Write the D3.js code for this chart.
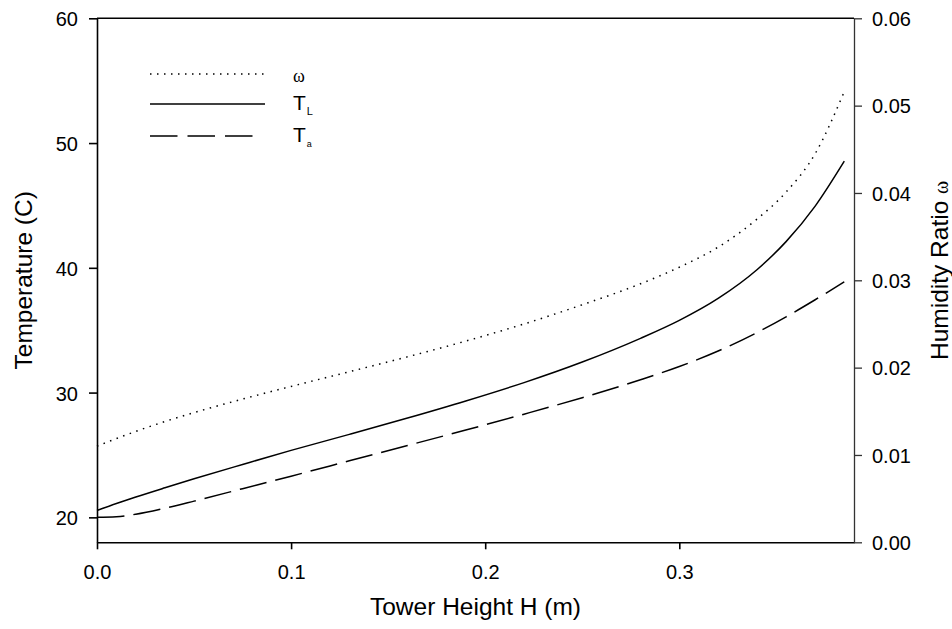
<!DOCTYPE html>
<html>
<head>
<meta charset="utf-8">
<script src="https://cdn.jsdelivr.net/npm/d3@7"></script>
<style>
  html, body { margin: 0; padding: 0; background: #fff; }
  svg { display: block; font-family: "Liberation Sans", Arial, sans-serif; }
</style>
</head>
<body>
<svg id="chart" width="952" height="629"></svg>
<script>
// Tower height (m) along the packing
const heights = [0, 0.01, 0.02, 0.035, 0.05, 0.075, 0.10, 0.13, 0.16, 0.19, 0.22, 0.25, 0.28, 0.30, 0.32, 0.34, 0.355, 0.37, 0.385];
// Liquid temperature T_L (C)
const liquidTemp = [20.55, 21.11, 21.63, 22.37, 23.09, 24.24, 25.37, 26.65, 27.96, 29.33, 30.8, 32.45, 34.35, 35.79, 37.55, 39.85, 42.1, 44.95, 48.55];
// Air temperature T_a (C)
const airTemp = [20.0, 20.05, 20.25, 20.73, 21.3, 22.3, 23.3, 24.53, 25.76, 27.0, 28.27, 29.59, 31.03, 32.09, 33.33, 34.81, 36.07, 37.44, 38.88];
// Humidity ratio omega (kg/kg)
const humidity = [0.0110, 0.01188, 0.0127, 0.01383, 0.01485, 0.0164, 0.01785, 0.01953, 0.02124, 0.02304, 0.025, 0.0272, 0.0296, 0.0315, 0.0338, 0.0370, 0.0401, 0.0445, 0.0516];

const xTicks = [0, 0.1, 0.2, 0.3];
const tempTicks = [20, 30, 40, 50, 60];
const humidityTicks = [0, 0.01, 0.02, 0.03, 0.04, 0.05, 0.06];

const svg = d3.select("#chart");
const plotLeft = 97, plotRight = 854, plotTop = 18.3, plotBottom = 542.3;

const x = d3.scaleLinear().domain([0, 0.39]).range([plotLeft, plotRight]);
const yT = d3.scaleLinear().domain([18, 60]).range([plotBottom, plotTop]);
const yW = d3.scaleLinear().domain([0, 0.06]).range([plotBottom, plotTop]);

const axisStroke = 1.6;

// bottom axis
const gx = svg.append("g").attr("transform", `translate(0,${plotBottom})`)
  .call(d3.axisBottom(x).tickValues(xTicks).tickFormat(d3.format(".1f"))
    .tickSize(7).tickSizeOuter(0).tickPadding(16));
// left axis
const gy = svg.append("g").attr("transform", `translate(${plotLeft},0)`)
  .call(d3.axisLeft(yT).tickValues(tempTicks).tickFormat(d3.format("d"))
    .tickSize(8).tickSizeOuter(0).tickPadding(11));
// right axis
const gw = svg.append("g").attr("transform", `translate(${plotRight},0)`)
  .call(d3.axisRight(yW).tickValues(humidityTicks).tickFormat(d3.format(".2f"))
    .tickSize(8).tickSizeOuter(0).tickPadding(10));

[gx, gy, gw].forEach(g => {
  g.selectAll("path.domain").attr("stroke", "#000").attr("stroke-width", axisStroke);
  g.selectAll(".tick line").attr("stroke", "#000").attr("stroke-width", axisStroke);
  g.selectAll(".tick text").attr("fill", "#000").attr("font-size", 20)
    .attr("font-family", "Liberation Sans, Arial, sans-serif");
});
gy.selectAll(".tick text").attr("dy", "0.38em");
gw.selectAll(".tick text").attr("dy", "0.36em");
gw.selectAll("path.domain, .tick line").attr("stroke", "#333").attr("stroke-width", 1.3);

// top frame line
svg.append("line")
  .attr("x1", plotLeft).attr("x2", plotRight).attr("y1", plotTop).attr("y2", plotTop)
  .attr("stroke", "#000").attr("stroke-width", axisStroke);

// axis titles
svg.append("text")
  .attr("x", (plotLeft + plotRight) / 2).attr("y", 615)
  .attr("text-anchor", "middle").attr("font-size", 24.5)
  .text("Tower Height H (m)");

svg.append("text")
  .attr("transform", `translate(32,${(plotTop + plotBottom) / 2}) rotate(-90)`)
  .attr("text-anchor", "middle").attr("font-size", 24.5)
  .text("Temperature (C)");

const rTitle = svg.append("text")
  .attr("transform", `translate(948,360) rotate(-90)`)
  .attr("text-anchor", "start").attr("font-size", 24.5);
rTitle.append("tspan").text("Humidity Ratio ");
rTitle.append("tspan").attr("font-family", "Liberation Serif, serif").attr("font-size", 20).text("ω");

// curves
const rows = heights.map((h, i) => ({ h, tl: liquidTemp[i], ta: airTemp[i], w: humidity[i] }));

const series = [
  { key: "w", scale: yW, dash: "1.5 5.5" },
  { key: "tl", scale: yT, dash: null },
  { key: "ta", scale: yT, dash: "27.5 9" }
];

series.forEach(s => {
  const line = d3.line()
    .x(d => x(d.h))
    .y(d => s.scale(d[s.key]))
    .curve(d3.curveMonotoneX);
  svg.append("path")
    .datum(rows)
    .attr("d", line)
    .attr("fill", "none")
    .attr("stroke", "#000")
    .attr("stroke-width", 1.5)
    .attr("stroke-dasharray", s.dash);
});

// legend
const legendItems = [
  { main: "ω", sub: "", dash: "1.5 5.5", x2: 265, y: 74 },
  { main: "T", sub: "L", dash: null, x2: 265, y: 104 },
  { main: "T", sub: "a", dash: "27.5 10", x2: 256, y: 136 }
];

legendItems.forEach(it => {
  svg.append("line")
    .attr("x1", 150).attr("x2", it.x2).attr("y1", it.y).attr("y2", it.y)
    .attr("stroke", "#000").attr("stroke-width", 1.5)
    .attr("stroke-dasharray", it.dash);
  if (it.sub === "") {
    svg.append("text").attr("x", 293).attr("y", it.y + 8)
      .attr("font-family", "Liberation Serif, serif").attr("font-size", 18)
      .text(it.main);
  } else {
    const t = svg.append("text").attr("x", 293).attr("y", it.y + 5.5).attr("font-size", 21);
    t.append("tspan").text(it.main);
    t.append("tspan").attr("font-size", it.sub === "L" ? 11 : 9).attr("dy", 5).attr("dx", 1).text(it.sub);
  }
});
</script>
</body>
</html>
